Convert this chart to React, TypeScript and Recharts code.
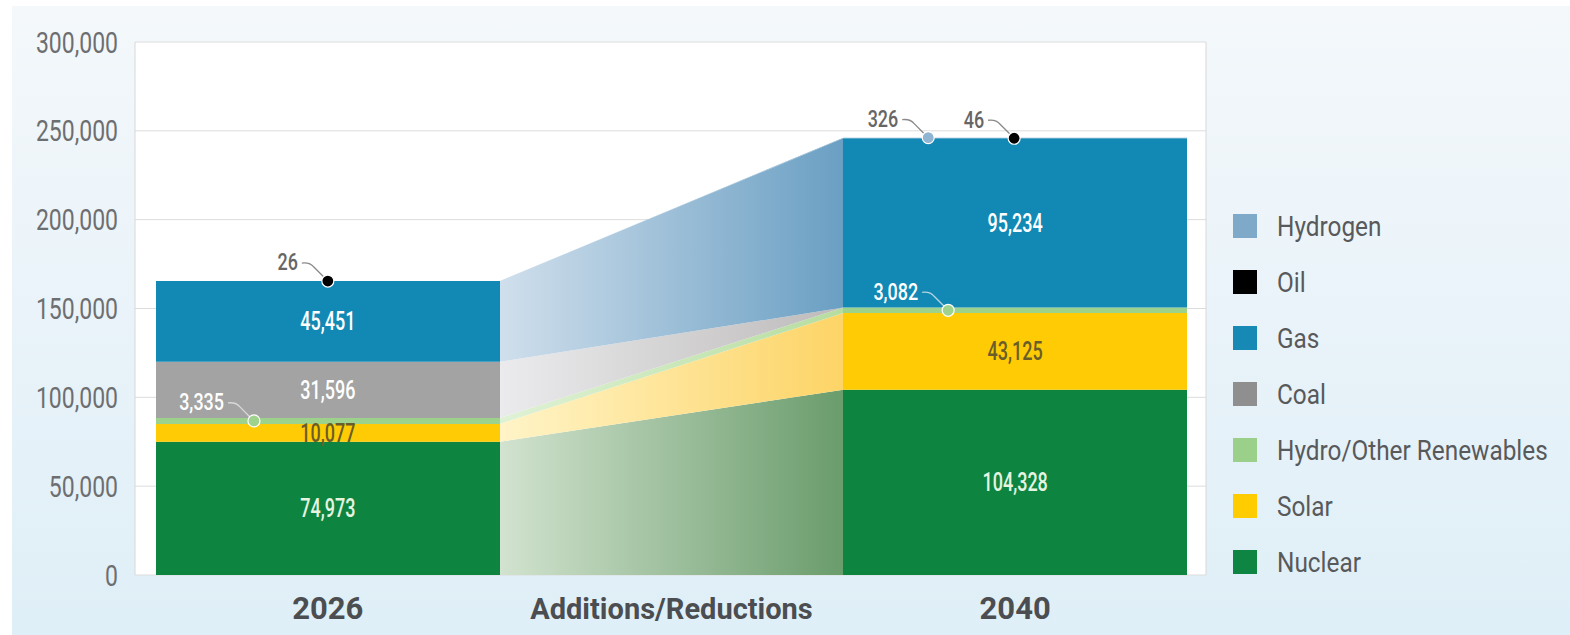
import {
  ComposedChart,
  Area,
  XAxis,
  YAxis,
  CartesianGrid,
  ReferenceDot,
} from "recharts";

// Generation by fuel, 2026 vs 2040 (bottom of stack first)
const categories = ["2026", "Additions/Reductions", "2040"];
const seriesKeys = ["nuclear", "solar", "hydro", "coal", "gas", "oil", "hydrogen"];
const seriesNames = ["Nuclear", "Solar", "Hydro/Other Renewables", "Coal", "Gas", "Oil", "Hydrogen"];
const values2026 = [74973, 10077, 3335, 31596, 45451, 26, 0];
const values2040 = [104328, 43125, 3082, 0, 95234, 46, 326];
const yTicks = [0, 50000, 100000, 150000, 200000, 250000, 300000];

// solid bar colour, then the light and dark ends of the transition band
const solidColors = ["#0d8541", "#ffcb05", "#9dd28d", "#a3a3a3", "#1289b5", "#000000", "#80abcb"];
const bandLight = ["#d2e3cf", "#fff4c8", "#e0f2d6", "#ebebed", "#d0dfec", "#d0dfec", "#d0dfec"];
const bandDark = ["#6a9c6c", "#fdd466", "#b6dda0", "#bdbaba", "#6a9fc3", "#6a9fc3", "#6a9fc3"];
const legendColors = ["#0e8542", "#ffcc00", "#9bd08a", "#8f8f8f", "#1689b5", "#000000", "#7fa9c9"];

// x positions: start of 2026 block, end of it, start of 2040 block, end of it
const xStops = [0, 1, 2, 3];
const chartData = xStops.map((x, i) => {
  const row: Record<string, number> = { x };
  seriesKeys.forEach((k, s) => {
    row[k] = i < 2 ? values2026[s] : values2040[s];
  });
  return row;
});

const FONT = "Roboto, sans-serif";
const fmt = (v: number) => v.toLocaleString("en-US");

const stackMid = (vals: number[], idx: number) =>
  vals.slice(0, idx).reduce((a, b) => a + b, 0) + vals[idx] / 2;
const stackTop = (vals: number[], idx: number) =>
  vals.slice(0, idx + 1).reduce((a, b) => a + b, 0);

// labels inside the segments: [x, series index, values, colour]
const inLabels: Array<[number, number, number[], string]> = [
  [0.5, 4, values2026, "#ffffff"],
  [0.5, 3, values2026, "#ffffff"],
  [0.5, 1, values2026, "#6a5d2a"],
  [0.5, 0, values2026, "#e6f4e0"],
  [2.5, 4, values2040, "#ffffff"],
  [2.5, 1, values2040, "#6a5d2a"],
  [2.5, 0, values2040, "#e6f4e0"],
];

// callouts for small values: [x, series index, values, dot fill, text colour, leader colour]
const callouts: Array<[number, number, number[], string, string, string]> = [
  [0.5, 5, values2026, "#000000", "#666666", "#8a8a8a"],
  [0.285, 2, values2026, "#9fd28c", "#ffffff", "#d9d9d9"],
  [2.247, 6, values2040, "#8fb5d3", "#666666", "#8a8a8a"],
  [2.497, 5, values2040, "#000000", "#666666", "#8a8a8a"],
  [2.305, 2, values2040, "#9fd28c", "#ffffff", "#b5d5df"],
];

function XTick({ x, y, payload }: any) {
  const label = categories[Math.floor(payload.value)];
  const big = label.length < 6;
  return (
    <text
      x={x}
      y={y + 36}
      textAnchor="middle"
      fill="#4b4d51"
      fontFamily={FONT}
      fontWeight={700}
      fontSize={big ? 31 : 29}
    >
      {label}
    </text>
  );
}

function YTick({ x, y, payload }: any) {
  return (
    <text
      transform={`translate(${x},${y}) scale(0.78,1)`}
      textAnchor="end"
      dy="0.36em"
      fill="#6d6e70"
      fontFamily={FONT}
      fontSize={29.5}
    >
      {fmt(payload.value)}
    </text>
  );
}

function LegendBox() {
  const order = [6, 5, 4, 3, 2, 1, 0];
  return (
    <div style={{ position: "absolute", left: 1233, top: 198 }}>
      {order.map((s) => (
        <div key={s} style={{ display: "flex", alignItems: "center", height: 56, whiteSpace: "nowrap" }}>
          <div style={{ width: 24, height: 24, background: legendColors[s], marginRight: 20, flex: "none" }} />
          <span
            style={{
              fontFamily: FONT,
              fontSize: 28,
              color: "#58595b",
              display: "inline-block",
              transform: "scaleX(0.87)",
              transformOrigin: "left center",
            }}
          >
            {seriesNames[s]}
          </span>
        </div>
      ))}
    </div>
  );
}

function makeLabel(text: string, color: string) {
  return (p: any) => (
    <text
      transform={`translate(${p.cx},${p.cy}) scale(0.72,1)`}
      textAnchor="middle"
      dy="0.36em"
      fill={color}
      fontFamily={FONT}
      fontWeight={500}
      fontSize={25}
    >
      {text}
    </text>
  );
}

function makeCallout(text: string, dotFill: string, textColor: string, lineColor: string) {
  return (p: any) => {
    const { cx, cy } = p;
    return (
      <g>
        <path
          d={`M${cx - 26},${cy - 18} Q${cx - 18},${cy - 19} ${cx - 14},${cy - 14} L${cx - 4},${cy - 4}`}
          fill="none"
          stroke={lineColor}
          strokeWidth={1.3}
        />
        <circle cx={cx} cy={cy} r={6} fill={dotFill} stroke="#ffffff" strokeWidth={1.2} />
        <text
          transform={`translate(${cx - 30},${cy - 19}) scale(0.78,1)`}
          dy="0.36em"
          textAnchor="end"
          fill={textColor}
          fontFamily={FONT}
          fontWeight={500}
          fontSize={23}
        >
          {text}
        </text>
      </g>
    );
  };
}

export default function App() {
  return (
    <div style={{ position: "relative", width: 1570, height: 635, overflow: "hidden" }}>
      <style>{`body{margin:0;}`}</style>
      <div
        style={{
          position: "absolute",
          left: 12,
          top: 6,
          right: 0,
          bottom: 0,
          background: "linear-gradient(180deg, #f4f8fb 0%, #e9f3f9 50%, #dfeff7 100%)",
        }}
      />
      <div style={{ position: "absolute", left: 0, top: 0 }}>
        <ComposedChart
          width={1570}
          height={635}
          data={chartData}
          margin={{ top: 42, right: 363, bottom: 0, left: 0 }}
        >
          <defs>
            {seriesKeys.map((k, s) => (
              <linearGradient key={k} id={`fill-${k}`} x1="0" y1="0" x2="1" y2="0">
                <stop offset={0} stopColor={solidColors[s]} />
                <stop offset={1 / 3} stopColor={solidColors[s]} />
                <stop offset={1 / 3} stopColor={bandLight[s]} />
                <stop offset={2 / 3} stopColor={bandDark[s]} />
                <stop offset={2 / 3} stopColor={solidColors[s]} />
                <stop offset={1} stopColor={solidColors[s]} />
              </linearGradient>
            ))}
          </defs>
          <CartesianGrid vertical={false} stroke="#dcdcdc" fill="#ffffff" />
          <XAxis
            dataKey="x"
            type="number"
            domain={[0, 3]}
            ticks={[0.5, 1.5, 2.5]}
            padding={{ left: 21, right: 19 }}
            axisLine={false}
            tickLine={false}
            height={60}
            tick={<XTick />}
            interval={0}
          />
          <YAxis
            domain={[0, 300000]}
            ticks={yTicks}
            width={135}
            axisLine={{ stroke: "#d8d8d8" }}
            tickLine={false}
            tickSize={0}
            tickMargin={17}
            tick={<YTick />}
          />
          <YAxis
            yAxisId="r"
            orientation="right"
            domain={[0, 300000]}
            width={1}
            tick={false}
            tickLine={false}
            axisLine={{ stroke: "#d8d8d8" }}
          />
          {seriesKeys.map((k, s) => (
            <Area
              key={k}
              type="linear"
              dataKey={k}
              name={seriesNames[s]}
              stackId="gen"
              stroke="none"
              fill={`url(#fill-${k})`}
              fillOpacity={1}
              dot={false}
              activeDot={false}
              isAnimationActive={false}
            />
          ))}
          {inLabels.map(([x, s, vals, color], i) => (
            <ReferenceDot
              key={`in-${i}`}
              x={x}
              y={stackMid(vals, s)}
              r={1}
              shape={makeLabel(fmt(vals[s]), color)}
            />
          ))}
          {callouts.map(([x, s, vals, dot, tc, lc], i) => (
            <ReferenceDot
              key={`co-${i}`}
              x={x}
              y={s === 2 ? stackMid(vals, s) : stackTop(vals, s)}
              r={6}
              shape={makeCallout(fmt(vals[s]), dot, tc, lc)}
            />
          ))}
        </ComposedChart>
      </div>
      <LegendBox />
    </div>
  );
}
